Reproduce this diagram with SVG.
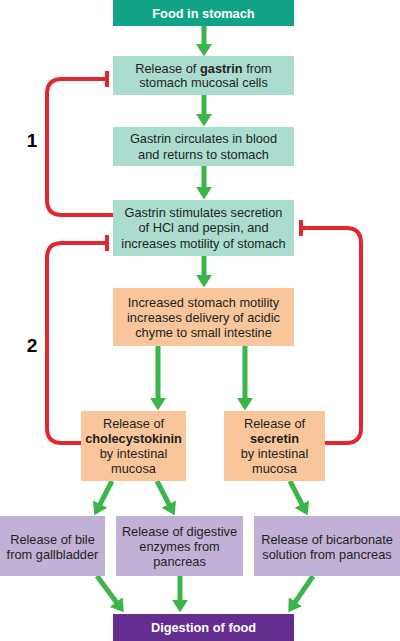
<svg xmlns="http://www.w3.org/2000/svg" width="400" height="641" viewBox="0 0 400 641">
<defs>
<style>
.t{font-family:"Liberation Sans",Arial,sans-serif;font-size:12.8px;fill:#231f20;text-anchor:middle}
.b{font-weight:bold}
.w{fill:#ffffff;font-weight:bold}
.teal{fill:#aadccf}
.orange{fill:#f9c59b}
.lav{fill:#c2b1d7}
.g{stroke:#39b54a;stroke-width:5;fill:none;marker-end:url(#ah)}
.r{stroke:#e0262e;stroke-width:4;fill:none}
.num{font-family:"Liberation Sans",Arial,sans-serif;font-size:19px;font-weight:bold;fill:#000;text-anchor:middle}
</style>
<marker id="ah" markerUnits="userSpaceOnUse" markerWidth="14" markerHeight="16" refX="1" refY="7" orient="auto" viewBox="0 0 12 14">
<path d="M0,0 L11,7 L0,14 z" fill="#39b54a"/>
</marker>
</defs>

<g id="connectors">
<line class="g" x1="204" y1="26" x2="204" y2="45"/>
<line class="g" x1="204" y1="95" x2="204" y2="115"/>
<line class="g" x1="204" y1="166" x2="204" y2="188"/>
<line class="g" x1="204" y1="256" x2="204" y2="276"/>
<line class="g" x1="158" y1="346" x2="158" y2="399"/>
<line class="g" x1="245" y1="346" x2="245" y2="399"/>
<line class="g" x1="112" y1="481" x2="99.6" y2="505.1"/>
<line class="g" x1="157" y1="481" x2="169.4" y2="505.1"/>
<line class="g" x1="290" y1="481" x2="302.4" y2="505.1"/>
<line class="g" x1="97" y1="576" x2="117" y2="603"/>
<line class="g" x1="180" y1="576" x2="180" y2="601"/>
<line class="g" x1="313" y1="576" x2="294.7" y2="602.8"/>
<path class="r" d="M113,215 H62 Q47,215 47,200 V94 Q47,79 62,79 H107"/>
<line class="r" x1="107" y1="71" x2="107" y2="87"/>
<path class="r" d="M81,443 H62 Q47,443 47,428 V258 Q47,243 62,243 H107"/>
<line class="r" x1="107" y1="235" x2="107" y2="251"/>
<path class="r" d="M325,443 H346 Q361,443 361,428 V243 Q361,228 346,228 H301"/>
<line class="r" x1="301" y1="220" x2="301" y2="236"/>
</g>

<text class="num" x="32" y="147">1</text>
<text class="num" x="32" y="352">2</text>

<g id="food">
<rect x="113" y="0" width="181" height="26" fill="#11a386"/>
<text class="t w" x="203.5" y="17.5">Food in stomach</text>
</g>
<g id="gastrin-release">
<rect class="teal" x="113" y="56" width="181" height="39"/>
<text class="t" x="203.5" y="72.5">Release of <tspan class="b">gastrin</tspan> from</text>
<text class="t" x="203.5" y="87">stomach mucosal cells</text>
</g>
<g id="gastrin-circulates">
<rect class="teal" x="113" y="127" width="181" height="39"/>
<text class="t" x="203.5" y="143">Gastrin circulates in blood</text>
<text class="t" x="203.5" y="158.5">and returns to stomach</text>
</g>
<g id="gastrin-stimulates">
<rect class="teal" x="113" y="200" width="181" height="56"/>
<text class="t" x="203.5" y="216.5">Gastrin stimulates secretion</text>
<text class="t" x="203.5" y="232">of HCl and pepsin, and</text>
<text class="t" x="203.5" y="247.5">increases motility of stomach</text>
</g>
<g id="motility">
<rect class="orange" x="113" y="288" width="181" height="58"/>
<text class="t" x="203.5" y="306.5">Increased stomach motility</text>
<text class="t" x="203.5" y="321.5">increases delivery of acidic</text>
<text class="t" x="203.5" y="336.5">chyme to small intestine</text>
</g>
<g id="cck">
<rect class="orange" x="81" y="411" width="105" height="70"/>
<text class="t" x="133.5" y="427.5">Release of</text>
<text class="t b" x="133.5" y="442.5">cholecystokinin</text>
<text class="t" x="133.5" y="457.5">by intestinal</text>
<text class="t" x="133.5" y="472.5">mucosa</text>
</g>
<g id="secretin">
<rect class="orange" x="224" y="411" width="101" height="70"/>
<text class="t" x="274.5" y="427.5">Release of</text>
<text class="t b" x="274.5" y="442.5">secretin</text>
<text class="t" x="274.5" y="457.5">by intestinal</text>
<text class="t" x="274.5" y="472.5">mucosa</text>
</g>
<g id="bile">
<rect class="lav" x="0" y="516" width="105" height="60"/>
<text class="t" x="52.5" y="543.5">Release of bile</text>
<text class="t" x="52.5" y="558.5">from gallbladder</text>
</g>
<g id="enzymes">
<rect class="lav" x="116" y="516" width="127" height="60"/>
<text class="t" x="179.5" y="535.5">Release of digestive</text>
<text class="t" x="179.5" y="550.5">enzymes from</text>
<text class="t" x="179.5" y="565.5">pancreas</text>
</g>
<g id="bicarbonate">
<rect class="lav" x="254" y="516" width="146" height="60"/>
<text class="t" x="327" y="543.5">Release of bicarbonate</text>
<text class="t" x="327" y="558.5">solution from pancreas</text>
</g>
<g id="digestion">
<rect x="113" y="614" width="181" height="27" fill="#662d91"/>
<text class="t w" x="203.5" y="631.5">Digestion of food</text>
</g>
</svg>
